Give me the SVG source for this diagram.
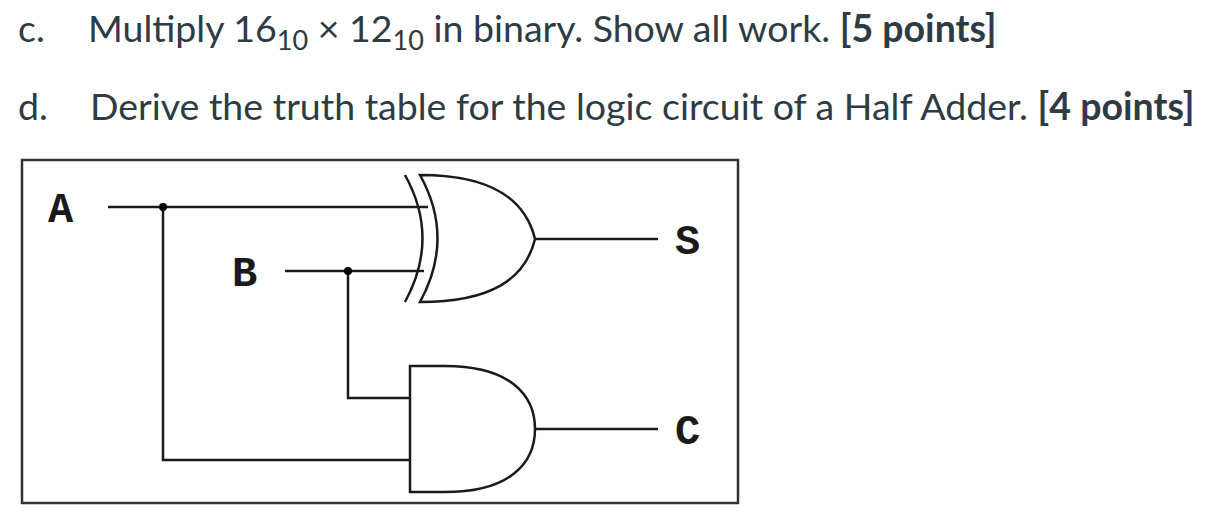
<svg xmlns="http://www.w3.org/2000/svg" width="1227" height="525" viewBox="0 0 1227 525">
<style>
.t{font-family:Lato,"Open Sans",sans-serif;font-size:37.5px;fill:#2d3b45}
.b{font-weight:bold}
.w{fill:none;stroke:#1a1a1a;stroke-width:2.5}
.g{fill:#fff;stroke:#1a1a1a;stroke-width:2.5}
.m{font-family:"Liberation Mono","DejaVu Sans Mono",monospace;font-weight:bold;font-size:42px;fill:#1a1a1a}
</style>
<rect width="1227" height="525" fill="#fff"/>
<text class="t" x="18" y="42">c.</text>
<text class="t" x="88" y="42">Multiply 16<tspan font-size="27" dy="8">10</tspan><tspan dy="-8"> × 12</tspan><tspan font-size="27" dy="8">10</tspan><tspan dy="-8"> in binary. Show all work. </tspan><tspan class="b">[5 points]</tspan></text>
<text class="t" x="18" y="120">d.</text>
<text class="t" x="90" y="120">Derive the truth table for the logic circuit of a Half Adder. <tspan class="b">[4 points]</tspan></text>
<rect x="22" y="160" width="716" height="343" fill="none" stroke="#333" stroke-width="2.5"/>
<g id="connectors">
<path class="w" d="M108 207H428M163 207V460H410M285 271H424M348 271V398H410M535 239H658M535 429H658"/>
<circle cx="163" cy="207" r="4"/><circle cx="348" cy="271" r="4"/>
</g>
<g id="xor">
<path class="w" d="M405 175Q440 238 405 302"/>
<path class="g" d="M420 175Q455 238 420 302C490 302 525 280 535 239C525 198 490 175 420 175Z"/>
</g>
<g id="and"><path class="g" d="M410 366H445C510 366 535 395 535 429C535 463 510 492 445 492H410Z"/></g>
<g id="labels">
<text class="m" x="48" y="222">A</text>
<text class="m" x="232" y="286">B</text>
<text class="m" x="675" y="254">S</text>
<text class="m" x="675" y="444">C</text>
</g>
</svg>
